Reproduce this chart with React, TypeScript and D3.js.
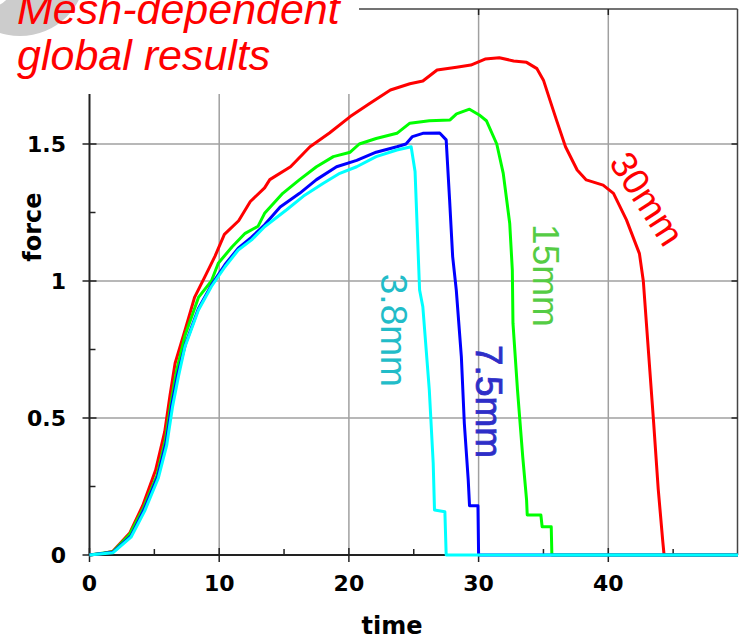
import React from 'react';
import * as d3 from 'd3';

type Pt = [number, number];

// [time, force]
const mesh30: Pt[] = [
  [0, 0], [1, 0.005], [1.8, 0.014], [3.1, 0.08], [4.1, 0.18], [5.1, 0.31], [5.8, 0.45], [6.2, 0.58],
  [6.6, 0.7], [7.36, 0.82], [8.1, 0.94], [8.9, 1.016], [9.67, 1.09], [10.4, 1.17], [11.5, 1.22],
  [12.4, 1.29], [13.5, 1.34], [13.9, 1.37], [15.5, 1.417], [17, 1.49], [18.5, 1.54], [20.1, 1.6],
  [21.6, 1.648], [23.2, 1.697], [24.7, 1.72], [25.7, 1.73], [26.8, 1.77], [28.3, 1.78], [29.4, 1.788],
  [30.5, 1.81], [31.6, 1.815], [32.7, 1.803], [33.7, 1.798], [34.5, 1.775], [35.0, 1.733], [35.5, 1.66],
  [36.0, 1.588], [36.7, 1.49], [37.6, 1.405], [38.3, 1.369], [39.6, 1.35], [40.4, 1.32], [41.4, 1.223],
  [42.4, 1.1], [42.7, 1.0], [43.5, 0.48], [43.85, 0.24], [44.2, 0.05], [44.3, 0], [50, 0],
];

const mesh15: Pt[] = [
  [0, 0], [1.8, 0.012], [3.1, 0.075], [4.15, 0.17], [5.2, 0.29], [5.85, 0.42], [6.3, 0.56], [6.7, 0.67],
  [7.36, 0.8], [8.4, 0.94], [9.4, 1.0], [9.93, 1.065], [11, 1.125], [12, 1.174], [13, 1.2], [13.5, 1.247],
  [14.9, 1.32], [16.2, 1.37], [17.5, 1.417], [18.8, 1.454], [20.1, 1.47], [20.8, 1.5], [22.1, 1.52],
  [23.7, 1.539], [24.7, 1.576], [26.2, 1.585], [27.8, 1.588], [28.3, 1.61], [29.3, 1.627], [30.05, 1.606],
  [30.6, 1.585], [31.4, 1.5], [31.9, 1.393], [32.4, 1.21], [32.6, 1.04], [32.65, 0.846], [33.0, 0.602],
  [33.4, 0.36], [33.7, 0.2], [33.75, 0.146], [34.8, 0.146], [34.9, 0.103], [35.6, 0.103], [35.65, 0],
  [50, 0],
];

const mesh75: Pt[] = [
  [0, 0], [1.8, 0.01], [3.2, 0.07], [4.2, 0.165], [5.25, 0.285], [5.9, 0.41], [6.35, 0.55], [6.8, 0.66],
  [7.4, 0.77], [8.4, 0.9], [9.4, 0.985], [10.45, 1.06], [11.47, 1.12], [12.5, 1.16], [13.5, 1.205],
  [14.7, 1.27], [16.2, 1.32], [17.5, 1.37], [19.05, 1.417], [20.6, 1.44], [22.1, 1.47], [23.7, 1.49],
  [24.4, 1.5], [24.9, 1.527], [25.7, 1.539], [27.0, 1.54], [27.5, 1.515], [27.76, 1.3], [28.0, 1.089],
  [28.28, 0.967], [28.67, 0.724], [28.9, 0.48], [29.2, 0.274], [29.3, 0.18], [29.95, 0.18], [30.0, 0],
  [50, 0],
];

const mesh38: Pt[] = [
  [0, 0], [1.8, 0.008], [3.2, 0.065], [4.25, 0.16], [5.3, 0.28], [5.95, 0.4], [6.4, 0.54], [6.85, 0.65],
  [7.36, 0.76], [8.4, 0.894], [9.4, 0.98], [10.45, 1.052], [11.47, 1.113], [12.5, 1.15], [13.5, 1.198],
  [15.2, 1.26], [16.5, 1.31], [18.0, 1.356], [19.3, 1.393], [20.6, 1.417], [22.1, 1.454], [23.7, 1.478],
  [24.8, 1.49], [25.1, 1.4], [25.45, 0.967], [25.7, 0.906], [26.2, 0.602], [26.5, 0.335], [26.6, 0.164],
  [27.4, 0.158], [27.5, 0], [50, 0],
];

const xMajor = [0, 10, 20, 30, 40];
const xMinor = [5, 15, 25, 35, 45];
const yMajor = [0, 0.5, 1, 1.5];
const yMinor = [0.25, 0.75, 1.25, 1.75];
const yTickLabels = ['0', '0.5', '1', '1.5'];

const series = [
  { name: '30mm', data: mesh30, color: '#ff0000' },
  { name: '15mm', data: mesh15, color: '#00ff00' },
  { name: '7.5mm', data: mesh75, color: '#0000ff' },
  { name: '3.8mm', data: mesh38, color: '#00ffff' },
];

const labels = [
  { text: '3.8mm', t: 23.5, f: 0.82, angle: 90, color: '#22bcc8', bold: false },
  { text: '7.5mm', t: 30.8, f: 0.56, angle: 90, color: '#2e2ec8', bold: true },
  { text: '15mm', t: 35.2, f: 1.02, angle: 90, color: '#55cc44', bold: false },
  { text: '30mm', t: 43.0, f: 1.3, angle: 57, color: '#ff0000', bold: false },
];

export default function App() {
  const width = 739;
  const height = 639;
  const left = 89.5;
  const right = 737.5;
  const top = 9;
  const bottom = 555;

  const x = d3.scaleLinear().domain([0, 50]).range([left, left + 50 * 12.97]);
  const y = d3.scaleLinear().domain([0, 2]).range([bottom, bottom - 2 * 274]);

  const line = d3
    .line<Pt>()
    .x(d => x(d[0]))
    .y(d => y(d[1]));

  const tickFont = { fontFamily: 'DejaVu Sans', fontWeight: 700, fontSize: 22 };

  return (
    <svg width={width} height={height} style={{ position: 'absolute', left: 0, top: 0 }}>
      <rect width={width} height={height} fill="#fff" />

      {/* grid */}
      {xMajor.slice(1).map(v => (
        <line key={'gx' + v} x1={x(v)} x2={x(v)} y1={top} y2={bottom} stroke="#a0a0a0" strokeWidth={1.5} />
      ))}
      {yMajor.slice(1).map(v => (
        <line key={'gy' + v} x1={left} x2={right} y1={y(v)} y2={y(v)} stroke="#a0a0a0" strokeWidth={1.5} />
      ))}

      {/* frame */}
      <line x1={left} x2={left} y1={top} y2={bottom} stroke="#222" strokeWidth={2} />
      <line x1={left} x2={right} y1={bottom} y2={bottom} stroke="#222" strokeWidth={2} />
      <line x1={left} x2={right} y1={top} y2={top} stroke="#444" strokeWidth={1.5} />
      <line x1={right} x2={right} y1={top} y2={bottom} stroke="#444" strokeWidth={1.5} />

      {/* ticks */}
      {xMajor.map(v => (
        <g key={'xt' + v}>
          <line x1={x(v)} x2={x(v)} y1={bottom - 7} y2={bottom + 7} stroke="#222" strokeWidth={1.5} />
          <line x1={x(v)} x2={x(v)} y1={top} y2={top + 6} stroke="#222" strokeWidth={1.5} />
          <text x={x(v)} y={591} textAnchor="middle" {...tickFont}>{v}</text>
        </g>
      ))}
      {xMinor.map(v => (
        <line key={'xm' + v} x1={x(v)} x2={x(v)} y1={bottom - 6} y2={bottom} stroke="#222" strokeWidth={1.5} />
      ))}
      {yMajor.map((v, i) => (
        <g key={'yt' + v}>
          <line x1={left - 7} x2={left + 7} y1={y(v)} y2={y(v)} stroke="#222" strokeWidth={1.5} />
          <line x1={right - 6} x2={right} y1={y(v)} y2={y(v)} stroke="#222" strokeWidth={1.5} />
          <text x={66} y={y(v)} dy="0.36em" textAnchor="end" {...tickFont}>{yTickLabels[i]}</text>
        </g>
      ))}
      {yMinor.map(v => (
        <line key={'ym' + v} x1={left} x2={left + 6} y1={y(v)} y2={y(v)} stroke="#222" strokeWidth={1.5} />
      ))}

      {/* axis titles */}
      <text x={392} y={634} textAnchor="middle" fontFamily="DejaVu Sans" fontWeight={700} fontSize={24}>time</text>
      <text
        transform="translate(41,227) rotate(-90)"
        textAnchor="middle"
        fontFamily="DejaVu Sans"
        fontWeight={700}
        fontSize={24}
      >
        force
      </text>

      {/* curves */}
      {series.map(s => (
        <path key={s.name} d={line(s.data) || ''} fill="none" stroke={s.color} strokeWidth={3} strokeLinejoin="round" />
      ))}

      {/* curve labels */}
      {labels.map(l => (
        <text
          key={l.text}
          transform={`translate(${x(l.t)},${y(l.f)}) rotate(${l.angle})`}
          textAnchor="middle"
          dy="0.35em"
          fontFamily="Liberation Sans"
          fontSize={37}
          stroke={l.bold ? l.color : 'none'}
          strokeWidth={l.bold ? 0.8 : 0}
          fill={l.color}
        >
          {l.text}
        </text>
      ))}

      {/* title area */}
      <rect x={0} y={0} width={359} height={94} fill="#fff" />
      <circle cx={20} cy={-30} r={66} fill="#cccccc" />
      <circle cx={-10} cy={-15} r={22} fill="#fff" />
      <text fontFamily="Liberation Sans" fontStyle="italic" fontSize={43} fill="#ff0000">
        <tspan x={17} y={24}>Mesh-dependent</tspan>
        <tspan x={17} y={70}>global results</tspan>
      </text>
    </svg>
  );
}
